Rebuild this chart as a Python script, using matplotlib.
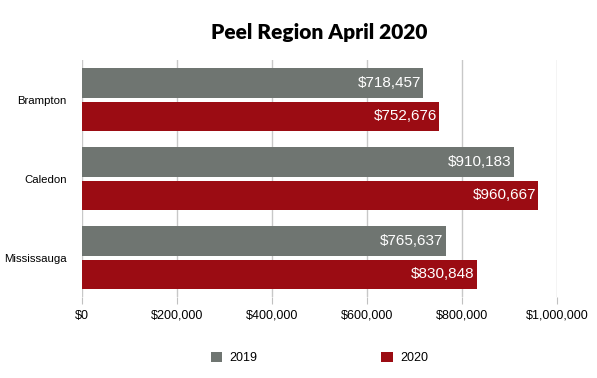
import numpy as np
import matplotlib.pyplot as plt

# Peel Region average prices, April 2019 vs 2020
cidades = ["Brampton", "Caledon", "Mississauga"]
precos_2019 = [718457, 910183, 765637]
precos_2020 = [752676, 960667, 830848]
ticks_x = [0, 200000, 400000, 600000, 800000, 1000000]

cinza = "#6f7571"
vermelho = "#9b0c13"

fig = plt.figure(figsize=(5.97, 3.78), dpi=100)
ax = fig.add_axes([0.137, 0.214, 0.796, 0.627])

y = np.arange(len(cidades))
alt = 0.375
b1 = ax.barh(y - 0.2125, precos_2019, height=alt, color=cinza, label="2019", zorder=3)
b2 = ax.barh(y + 0.2125, precos_2020, height=alt, color=vermelho, label="2020", zorder=3)

for barras in (b1, b2):
    for r in barras:
        v = r.get_width()
        ax.text(v - 5000, r.get_y() + r.get_height() / 2, "${:,.0f}".format(v),
                ha="right", va="center", color="white", fontsize=11,
                family="Liberation Sans", zorder=4)

ax.set_xlim(0, 1000000)
ax.set_ylim(2.5, -0.5)
ax.set_yticks(y)
ax.set_yticklabels(cidades, family="Liberation Sans", fontsize=8.2)
ax.set_xticks(ticks_x)
ax.set_xticklabels(["${:,.0f}".format(t) for t in ticks_x], family="Liberation Sans", fontsize=9)
ax.tick_params(axis="y", length=0, pad=11)
ax.tick_params(axis="x", length=5, color="#c0c0c0", pad=4)
ax.grid(axis="x", color="#c8c8c8", linewidth=1, zorder=0)
for s in ax.spines.values():
    s.set_visible(False)

fig.text(0.535, 0.915, "Peel Region April 2020", ha="center", va="center",
         fontsize=15, fontweight="heavy", family="Lato")

fig.legend(handles=[b1, b2], loc="center", bbox_to_anchor=(0.535, 0.053), ncol=2,
           frameon=False, handlelength=0.9, handleheight=0.9, columnspacing=9.9,
           handletextpad=0.6, prop={"family": "Liberation Sans", "size": 9})

plt.savefig("out.png", dpi=100)
